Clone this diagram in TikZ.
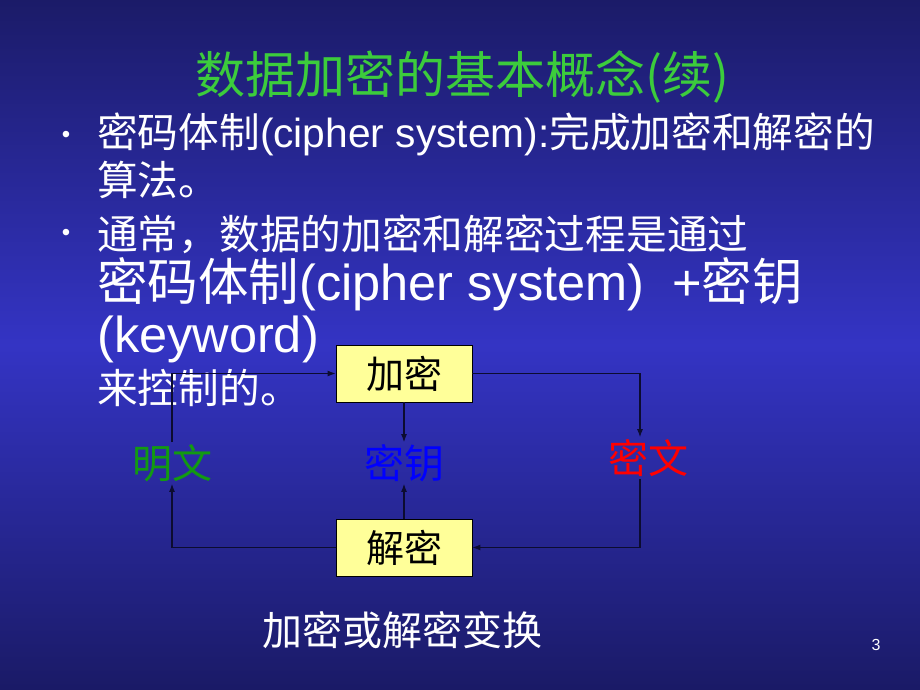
\documentclass[tikz,border=0pt]{standalone}
\usepackage{fontspec}
\setmainfont{Liberation Sans}
\newfontfamily\cjk{Noto Sans CJK SC}
\usetikzlibrary{arrows.meta}
\definecolor{SlideTop}{HTML}{1B1B68}
\definecolor{SlideMid}{HTML}{3434C4}
\definecolor{SlideBottom}{HTML}{1A1A66}
\definecolor{TitleGreen}{HTML}{3CCC3C}
\definecolor{PlainGreen}{HTML}{129A12}
\definecolor{KeyBlue}{HTML}{0000FF}
\definecolor{CipherRed}{HTML}{FF0000}
\definecolor{BoxYellow}{HTML}{FFFF99}
\definecolor{LinkDark}{HTML}{0C0C30}

\tikzset{
	body/.style={anchor=base west, text=white, inner sep=0pt, font=\fontsize{40.7}{40}\selectfont},
	bigbody/.style={body, font=\fontsize{50.5}{50}\selectfont},
	dot/.style={text=white, inner sep=0pt, font=\fontsize{24}{24}\selectfont},
	box/.style={draw=black, line width=0.8pt, fill=BoxYellow, inner sep=0pt, minimum width=136pt, minimum height=57pt, font=\cjk\fontsize{38}{38}\selectfont},
	tag/.style={inner sep=2pt, font=\cjk\fontsize{40}{40}\selectfont},
	link/.style={draw=LinkDark, line width=1.1pt, -{Latex[length=8pt,width=6pt]}}
}

\begin{document}
\begin{tikzpicture}[x=1pt,y=-1pt]
	% slide background
	\shade[top color=SlideTop, bottom color=SlideBottom, middle color=SlideMid] (0,0) rectangle (920,690);
	\useasboundingbox (0,0) rectangle (920,690);
	
	\node[text=TitleGreen, anchor=base, inner sep=0pt, font=\cjk\fontsize{50}{50}\selectfont] (title) at (462,94) {数据加密的基本概念(续)};
	
	\node[dot] (bullet1) at (66,137) {•};
	\node[body] (line1) at (97,147) {{\cjk 密码体制}(cipher system):{\cjk 完成加密和解密的}};
	\node[body] (line2) at (97,195) {\cjk 算法。};
	\node[dot] (bullet2) at (66,235) {•};
	\node[body] (line3) at (97,249) {\cjk 通常，数据的加密和解密过程是通过};
	\node[bigbody] (line4) at (97,300) {{\cjk 密码体制}(cipher system)\ \ +{\cjk 密钥}};
	\node[bigbody] (line5) at (97,352) {(keyword)};
	\node[body] (line6) at (97,403) {\cjk 来控制的。};
	
	% diagram
	\node[box] (enc) at (404,373.5) {加密};
	\node[box] (dec) at (404,547.5) {解密};
	\node[tag, text=PlainGreen] (plain) at (172,463) {明文};
	\node[tag, text=KeyBlue] (key) at (404,463) {密钥};
	\node[tag, text=CipherRed] (cipher) at (648,458) {密文};
	\coordinate (cipherin) at ([xshift=-8pt]cipher.north);
	\coordinate (cipherout) at ([xshift=-8pt]cipher.south);
	
	\draw[link] (plain.north) |- (enc.west);
	\draw[link] (enc.east) -| (cipherin);
	\draw[link] (cipherout) |- (dec.east);
	\draw[link] (dec.west) -| (plain.south);
	\draw[link] (enc.south) -- (key.north);
	\draw[link] (dec.north) -- (key.south);
	
	\node[text=white, inner sep=0pt, font=\cjk\fontsize{40}{40}\selectfont] (caption) at (402,630) {加密或解密变换};
	\node[text=white, inner sep=0pt, font=\fontsize{16}{16}\selectfont] (pagenum) at (876,645) {3};
\end{tikzpicture}
\end{document}
